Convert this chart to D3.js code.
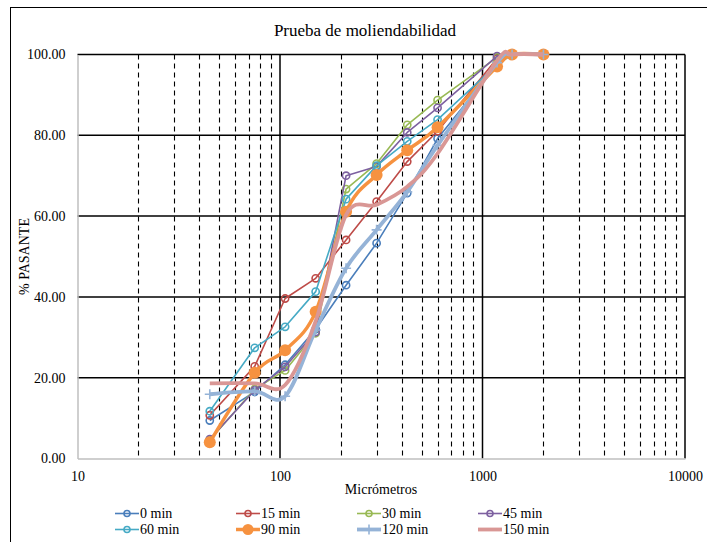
<!DOCTYPE html>
<html><head><meta charset="utf-8">
<script src="https://cdn.jsdelivr.net/npm/d3@7"></script>
<style>body{margin:0;background:#fff}svg{display:block}text{font-family:"Liberation Serif","Times New Roman",serif;fill:#000}</style>
</head><body>
<svg id="c" width="707" height="542"></svg>
<script>
const sizes = [45, 75, 106, 150, 212, 300, 425, 600, 1180, 1400, 2000];
const s0   = [9.4, 16.5, 23.2, 32.0, 42.9, 53.3, 65.7, 79.2, 97.5, 100, 100];
const s15  = [10.7, 22.8, 39.6, 44.6, 54.1, 63.6, 73.5, 81.0, 99.0, 100, 100];
const s30  = [4.6, 17.2, 21.8, 31.0, 66.7, 73.0, 82.6, 88.7, 99.3, 100, 100];
const s45  = [4.8, 16.9, 22.7, 31.3, 70.0, 72.3, 80.7, 86.8, 99.6, 100, 100];
const s60  = [11.7, 27.4, 32.6, 41.3, 64.2, 72.5, 78.5, 83.9, 97.5, 100, 100];
const s90  = [4.0, 21.2, 26.8, 36.3, 61.1, 70.2, 76.3, 82.0, 97.0, 100, 100];
const s120 = [15.9, 16.6, 15.4, 31.8, 47.1, 56.6, 66.0, 77.5, 98.0, 100, 100];
const s150 = [18.6, 18.6, 18.2, 34.0, 60.3, 62.8, 67.3, 75.5, 98.5, 100, 100];
const seriesNames = ["0 min","15 min","30 min","45 min","60 min","90 min","120 min","150 min"];
const yTicks = [0, 20, 40, 60, 80, 100];
const xTicks = [10, 100, 1000, 10000];

const series = [
  {name: seriesNames[0], v: s0,   color: "#4A7EBB", w: 1.6, marker: "circle", smooth: false},
  {name: seriesNames[1], v: s15,  color: "#BE4B48", w: 1.6, marker: "circle", smooth: false},
  {name: seriesNames[2], v: s30,  color: "#98B954", w: 1.6, marker: "circle", smooth: false},
  {name: seriesNames[3], v: s45,  color: "#7D60A0", w: 1.6, marker: "circle", smooth: false},
  {name: seriesNames[4], v: s60,  color: "#46AAC5", w: 1.6, marker: "circle", smooth: false},
  {name: seriesNames[5], v: s90,  color: "#F69240", w: 3.5, marker: "dot", smooth: true},
  {name: seriesNames[6], v: s120, color: "#95B3D7", w: 3.8, marker: "plus", smooth: true},
  {name: seriesNames[7], v: s150, color: "#D99795", w: 3.8, marker: "none", smooth: true}
];

const svg = d3.select("#c");
const L = 77.5, R = 685, T = 54.5, B = 458.5;
const x = d3.scaleLog().domain([10, 10000]).range([L, R]);
const y = d3.scaleLinear().domain([0, 100]).range([B, T]);

// outer border
svg.append("rect").attr("x", 10.5).attr("y", 7.5).attr("width", 720).attr("height", 560)
  .attr("fill", "none").attr("stroke", "#000").attr("stroke-width", 1);

// title
svg.append("text").attr("x", 365).attr("y", 36).attr("text-anchor", "middle")
  .style("font-size", "17px").text("Prueba de moliendabilidad");

// minor vertical dashed gridlines
const minor = [];
for (let d = 10; d < 10000; d *= 10) for (let k = 2; k <= 9; k++) minor.push(d * k);
svg.append("g").selectAll("line").data(minor).join("line")
  .attr("x1", d => Math.round(x(d)) + 0.5).attr("x2", d => Math.round(x(d)) + 0.5)
  .attr("y1", T).attr("y2", B)
  .attr("stroke", "#000").attr("stroke-width", 1.1).attr("stroke-dasharray", "5,4");

// major vertical solid
svg.append("g").selectAll("line").data([100, 1000, 10000]).join("line")
  .attr("x1", d => x(d)).attr("x2", d => x(d)).attr("y1", T).attr("y2", B)
  .attr("stroke", "#000").attr("stroke-width", 1.5);

// horizontal gridlines
svg.append("g").selectAll("line").data(yTicks.filter(d => d > 0)).join("line")
  .attr("x1", L).attr("x2", R).attr("y1", d => y(d)).attr("y2", d => y(d))
  .attr("stroke", "#000").attr("stroke-width", 1.5);

// axes (gray)
const yAxis = d3.axisLeft(y).tickValues(yTicks).tickFormat(d3.format(".2f")).tickSize(0).tickPadding(12);
const gy = svg.append("g").attr("transform", `translate(${L},0)`).call(yAxis);
gy.select(".domain").attr("stroke", "#BFBFBF").attr("stroke-width", 1.5);
gy.selectAll("text").style("font-size", "14px").style("font-family", "Liberation Serif");

const xAxis = d3.axisBottom(x).tickValues(xTicks).tickFormat(d3.format("d")).tickSize(0).tickPadding(13);
const gx = svg.append("g").attr("transform", `translate(0,${B})`).call(xAxis);
gx.select(".domain").attr("stroke", "#BFBFBF").attr("stroke-width", 1.5);
gx.selectAll("text").style("font-size", "14px").style("font-family", "Liberation Serif");

// axis titles
svg.append("text").attr("x", 381).attr("y", 494).attr("text-anchor", "middle")
  .style("font-size", "14px").text("Micrómetros");
svg.append("text").attr("transform", `translate(29,${(T + B) / 2}) rotate(-90)`)
  .attr("text-anchor", "middle").style("font-size", "14px").text("%  PASANTE");

// series
const gS = svg.append("g");
series.forEach(s => {
  const pts = sizes.map((d, i) => [d, s.v[i]]);
  const line = d3.line().x(p => x(p[0])).y(p => y(p[1]))
    .curve(s.smooth ? d3.curveCatmullRom.alpha(0) : d3.curveLinear);
  gS.append("path").attr("d", line(pts)).attr("fill", "none")
    .attr("stroke", s.color).attr("stroke-width", s.w).attr("stroke-linejoin", "round");
  const g = gS.append("g");
  if (s.marker === "circle") {
    g.selectAll("circle").data(pts).join("circle")
      .attr("cx", p => x(p[0])).attr("cy", p => y(p[1])).attr("r", 3.6)
      .attr("fill", "none").attr("stroke", s.color).attr("stroke-width", 1.6);
  } else if (s.marker === "dot") {
    g.selectAll("circle").data(pts).join("circle")
      .attr("cx", p => x(p[0])).attr("cy", p => y(p[1])).attr("r", 6)
      .attr("fill", s.color);
  } else if (s.marker === "plus") {
    g.selectAll("path").data(pts).join("path")
      .attr("d", p => { const cx = x(p[0]), cy = y(p[1]); return `M${cx-5},${cy}H${cx+5}M${cx},${cy-5}V${cy+5}`; })
      .attr("stroke", s.color).attr("stroke-width", 1.6);
  }
});

// legend
const colX = [115, 236, 357, 478];
const rowY = [513.5, 529.5];
series.forEach((s, i) => {
  const cx = colX[i % 4], cy = rowY[Math.floor(i / 4)];
  const g = svg.append("g");
  g.append("line").attr("x1", cx).attr("x2", cx + 24).attr("y1", cy).attr("y2", cy)
    .attr("stroke", s.color).attr("stroke-width", s.w);
  const mx = cx + 12;
  if (s.marker === "circle") g.append("circle").attr("cx", mx).attr("cy", cy).attr("r", 3)
    .attr("fill", "none").attr("stroke", s.color).attr("stroke-width", 1.6);
  else if (s.marker === "dot") g.append("circle").attr("cx", mx).attr("cy", cy).attr("r", 5.5).attr("fill", s.color);
  else if (s.marker === "plus") g.append("path").attr("d", `M${mx},${cy-5}V${cy+5}`)
    .attr("stroke", s.color).attr("stroke-width", 1.6);
  g.append("text").attr("x", cx + 25).attr("y", cy + 4.5).style("font-size", "14px").text(s.name);
});
</script>
</body></html>
